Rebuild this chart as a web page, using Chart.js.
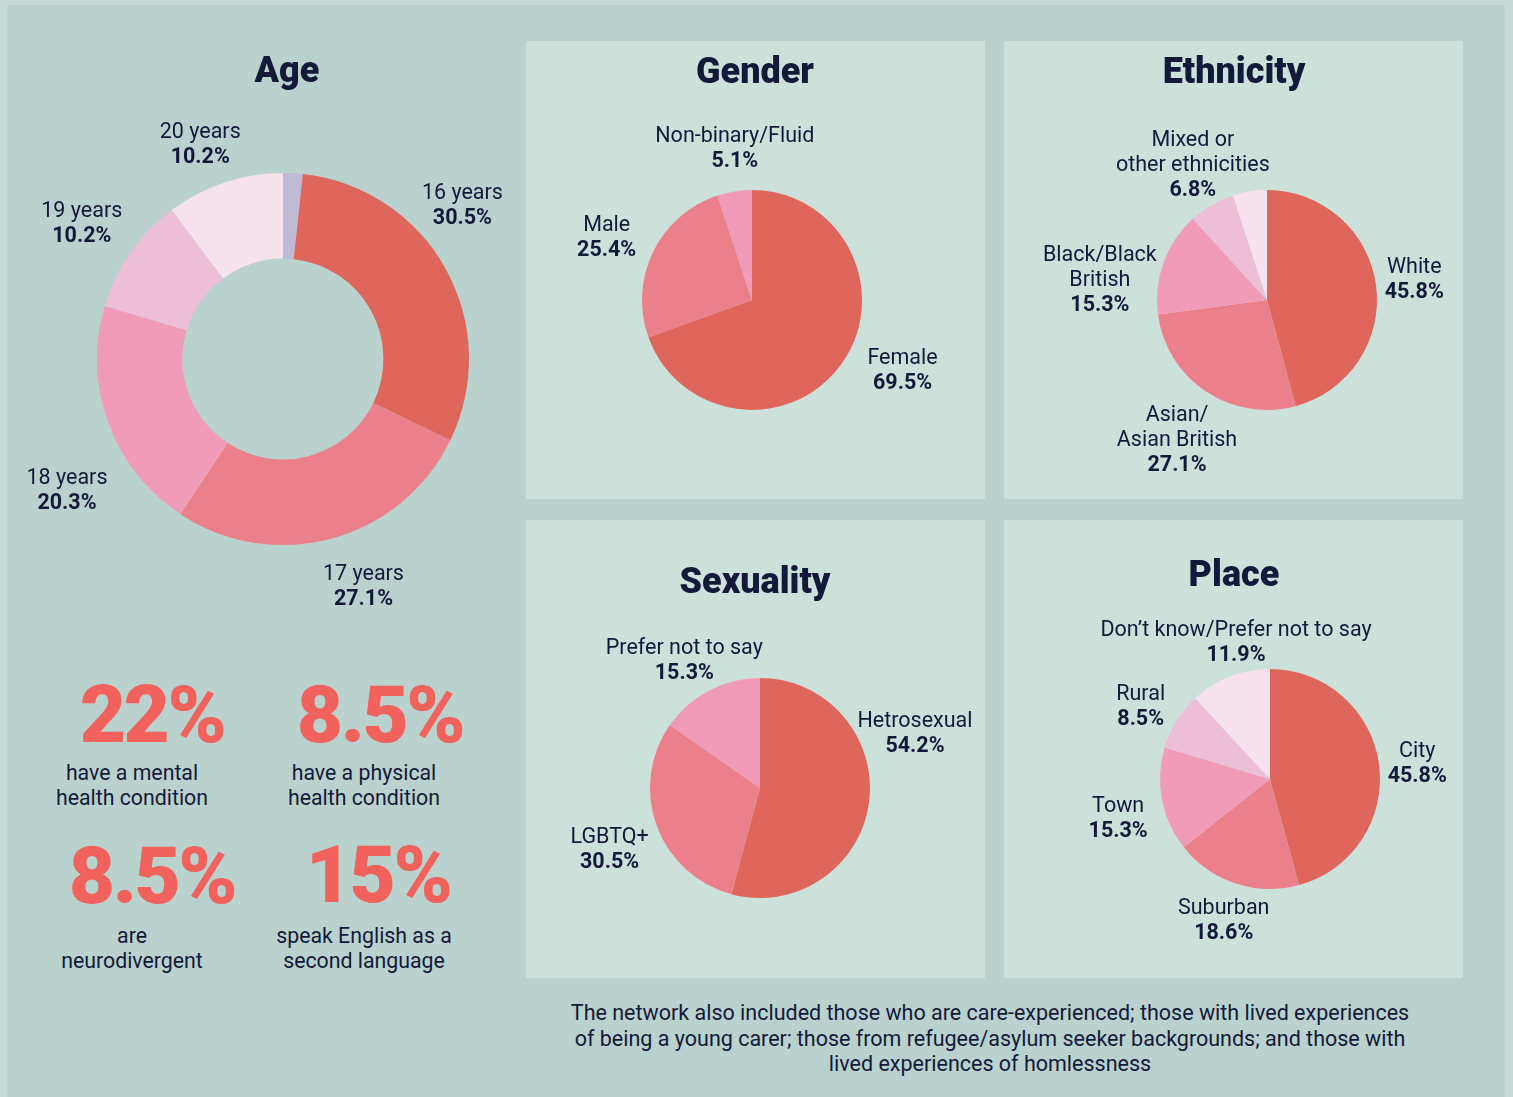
<!DOCTYPE html>
<html><head><meta charset="utf-8">
<script src="https://cdn.jsdelivr.net/npm/chart.js@4.4.0/dist/chart.umd.min.js"></script>
<style>
html,body{margin:0;padding:0;}
body{width:1513px;height:1097px;background:#c6dad5;position:relative;overflow:hidden;font-family:Roboto,sans-serif;color:#14193a;}
#main{position:absolute;left:7px;top:5px;width:1498px;height:1100px;background:#b9d2cd;}
.panel{position:absolute;width:459px;height:458px;background:#cde1db;}
.title{position:absolute;text-align:center;font-weight:900;font-size:36px;line-height:36px;width:400px;}
canvas{position:absolute;}
.big{position:absolute;width:240px;text-align:center;font-size:80px;font-weight:900;color:#f0625b;line-height:80px;letter-spacing:-2.5px;}
.desc{position:absolute;width:240px;text-align:center;font-size:21.3px;line-height:25px;}
#foot{position:absolute;left:490px;width:1000px;top:1000px;text-align:center;font-size:21.5px;line-height:25.5px;}
</style></head>
<body>
<div id="main"></div>
<div class="panel" style="left:526px;top:41px"></div>
<div class="panel" style="left:1004px;top:41px"></div>
<div class="panel" style="left:526px;top:520px"></div>
<div class="panel" style="left:1004px;top:520px"></div>

<canvas id="cAge" width="520" height="640" style="left:0;top:0"></canvas>
<canvas id="cGender" width="459" height="458" style="left:526px;top:41px"></canvas>
<canvas id="cEth" width="459" height="458" style="left:1004px;top:41px"></canvas>
<canvas id="cSex" width="459" height="458" style="left:526px;top:520px"></canvas>
<canvas id="cPlace" width="459" height="458" style="left:1004px;top:520px"></canvas>

<div class="title" style="left:87px;top:52px">Age</div>
<div class="title" style="left:555px;top:53px">Gender</div>
<div class="title" style="left:1034px;top:53px">Ethnicity</div>
<div class="title" style="left:555px;top:563px">Sexuality</div>
<div class="title" style="left:1034px;top:556px">Place</div>

<div class="big" style="left:32px;top:675px">22%</div>
<div class="desc" style="left:12px;top:760px">have a mental<br>health condition</div>
<div class="big" style="left:260px;top:675px">8.5%</div>
<div class="desc" style="left:244px;top:760px">have a physical<br>health condition</div>
<div class="big" style="left:32px;top:836px">8.5%</div>
<div class="desc" style="left:12px;top:923px">are<br>neurodivergent</div>
<div class="big" style="left:258px;top:835px">15%</div>
<div class="desc" style="left:244px;top:923px">speak English as a<br>second language</div>

<div id="foot">The network also included those who are care-experienced; those with lived experiences<br>of being a young carer; those from refugee/asylum seeker backgrounds; and those with<br>lived experiences of homlessness</div>

<script>
// ---- data ----
const ageLabels = ['', '16 years', '17 years', '18 years', '19 years', '20 years'];
const ageValues = [1.7, 30.5, 27.1, 20.3, 10.2, 10.2];

const genderLabels = ['Female', 'Male', 'Non-binary/Fluid'];
const genderValues = [69.5, 25.4, 5.1];

const ethnicityLabels = ['White', 'Asian/\nAsian British', 'Black/Black\nBritish', 'Mixed or\nother ethnicities', ''];
const ethnicityValues = [45.8, 27.1, 15.3, 6.8, 5.0];

const sexualityLabels = ['Hetrosexual', 'LGBTQ+', 'Prefer not to say'];
const sexualityValues = [54.2, 30.5, 15.3];

const placeLabels = ['City', 'Suburban', 'Town', 'Rural', 'Don\u2019t know/Prefer not to say'];
const placeValues = [45.8, 18.6, 15.3, 8.5, 11.9];

// ---- styles ----
const RED = '#df665d', PINK1 = '#eb7f8a', PINK2 = '#f09cb8', PINK3 = '#ecbfd7', PINK4 = '#f5e2ec', LAV = '#bfbbd5';
const TEXT = '#14193a';

const sliceLabels = {
  id: 'sliceLabels',
  afterDatasetsDraw(chart, args, opts) {
    const ctx = chart.ctx;
    const meta = chart.getDatasetMeta(0);
    const ds = chart.data.datasets[0];
    meta.data.forEach((arc, i) => {
      const name = chart.data.labels[i];
      if (!name) return;
      const p = arc.getProps(['x','y','startAngle','endAngle','outerRadius'], true);
      const mid = (p.startAngle + p.endAngle) / 2;
      const dx = Math.cos(mid), dy = Math.sin(mid);
      const nudge = (opts.nudge && opts.nudge[i]) || [0, 0];
      const ax = p.x + dx * (p.outerRadius + opts.gap);
      const ay = p.y + dy * (p.outerRadius + opts.gap);
      const lines = name.split('\n').map(t => ({t, bold: false}));
      lines.push({t: ds.data[i].toFixed(1) + '%', bold: true});
      ctx.save();
      let w = 0;
      lines.forEach(l => {
        ctx.font = (l.bold ? '700 ' : '400 ') + opts.size + 'px Roboto';
        l.w = ctx.measureText(l.t).width; w = Math.max(w, l.w);
      });
      const h = lines.length * opts.lh;
      const left = ax - w * (1 - dx) / 2 + nudge[0];
      const top = ay - h * (1 - dy) / 2 + nudge[1];
      ctx.fillStyle = TEXT; ctx.textAlign = 'center'; ctx.textBaseline = 'middle';
      lines.forEach((l, k) => {
        ctx.font = (l.bold ? '700 ' : '400 ') + opts.size + 'px Roboto';
        ctx.fillText(l.t, left + w / 2, top + opts.lh * (k + 0.5));
      });
      ctx.restore();
    });
  }
};

function makePie(id, labels, values, colors, padding, cutout, labelOpts) {
  return new Chart(document.getElementById(id), {
    type: cutout ? 'doughnut' : 'pie',
    data: { labels: labels, datasets: [{ data: values, backgroundColor: colors, borderWidth: 0, hoverOffset: 0 }] },
    options: {
      responsive: false, animation: false, devicePixelRatio: 1,
      cutout: cutout || 0,
      layout: { padding: padding },
      plugins: { legend: { display: false }, tooltip: { enabled: false }, title: { display: false }, sliceLabels: labelOpts }
    },
    plugins: [sliceLabels]
  });
}

makePie('cAge', ageLabels, ageValues, [LAV, RED, PINK1, PINK2, PINK3, PINK4],
  {left: 97, right: 51, top: 173, bottom: 95}, '54%',
  {gap: 14, size: 21.5, lh: 25, nudge: [null, [-31, -44], [17, 11], [10, 55], [-4, -6], [-7, 0]]});
makePie('cGender', genderLabels, genderValues, [RED, PINK1, PINK2],
  {left: 116, right: 123, top: 149, bottom: 89}, 0,
  {gap: 12, size: 21.5, lh: 25, nudge: [[22, -13], [-9, 2], [15, -6]]});
makePie('cEth', ethnicityLabels, ethnicityValues, [RED, PINK1, PINK2, PINK3, PINK4],
  {left: 153, right: 86, top: 149, bottom: 89}, 0,
  {gap: 12, size: 21.5, lh: 25, nudge: [[-3, -1], [11, 8], [1, 35], [26, 3]]});
makePie('cSex', sexualityLabels, sexualityValues, [RED, PINK1, PINK2],
  {left: 124, right: 115, top: 158, bottom: 80}, 0,
  {gap: 12, size: 21.5, lh: 25, nudge: [[-23, -73], [1, 12], [17, 3]]});
makePie('cPlace', placeLabels, placeValues, [RED, PINK1, PINK2, PINK3, PINK4],
  {left: 156, right: 83, top: 149, bottom: 89}, 0,
  {gap: 12, size: 21.5, lh: 25, nudge: [[-3, 5], [6, 2], [-3, 12], [-5, 6], [60, 1]]});
</script>
</body></html>
